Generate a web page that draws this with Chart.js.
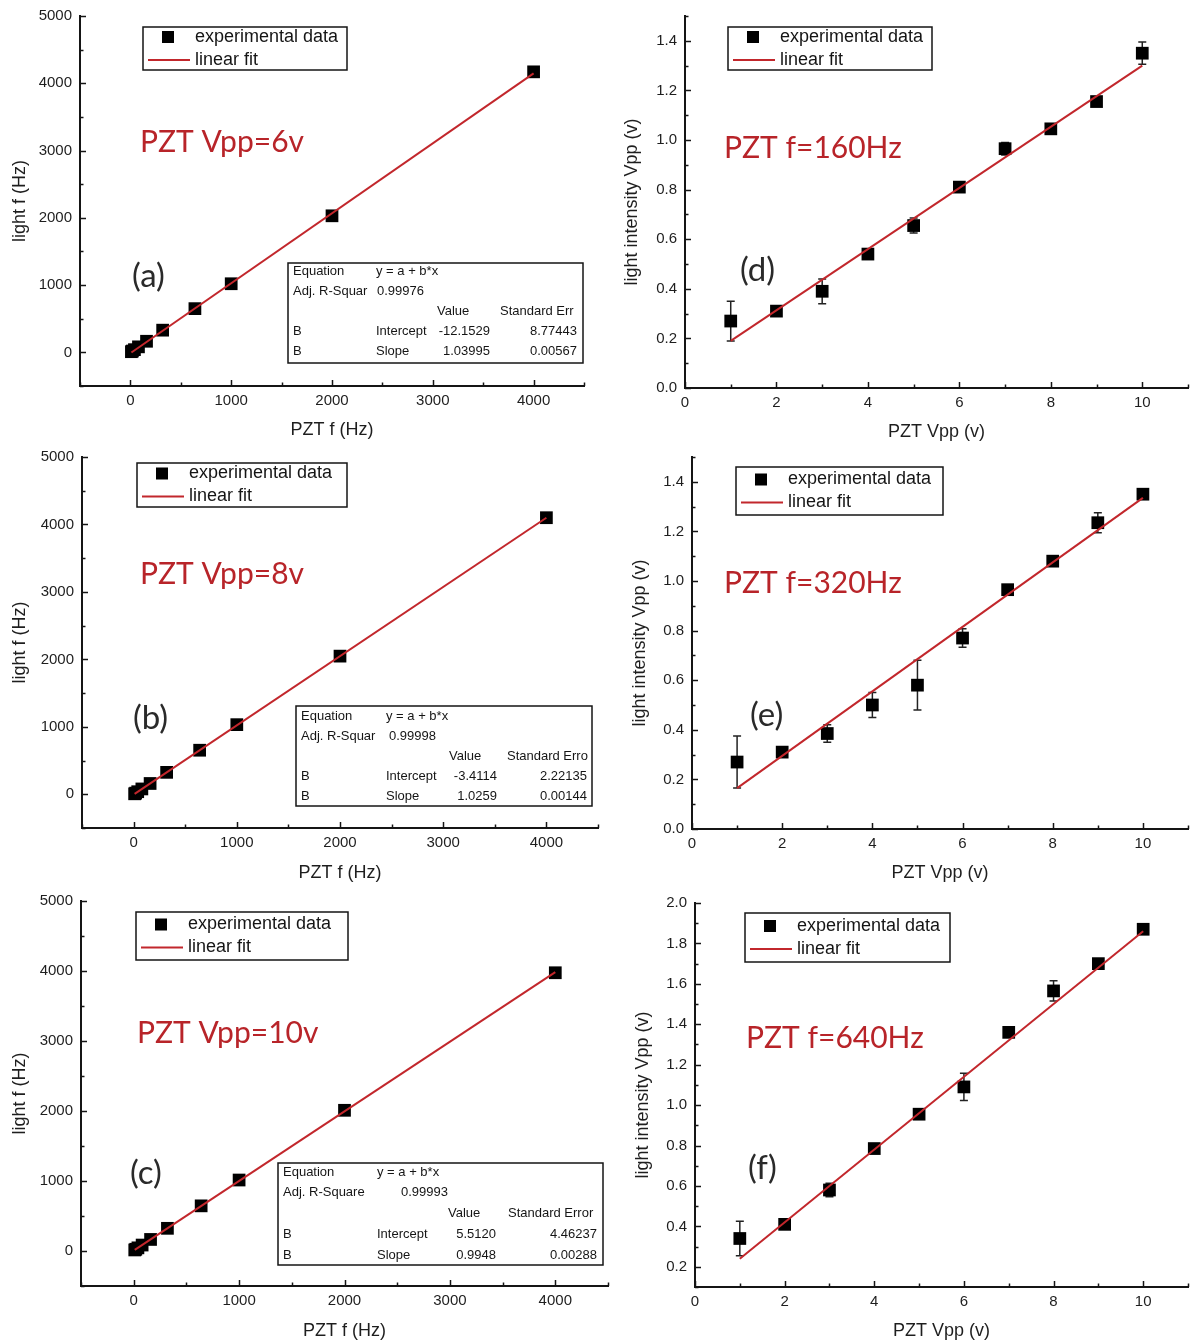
<!DOCTYPE html>
<html>
<head>
<meta charset="utf-8">
<script src="https://cdn.jsdelivr.net/npm/chart.js@4.4.1/dist/chart.umd.min.js"></script>
<style>
  body { margin: 0; background: #fff; }
  #page { position: relative; width: 1197px; height: 1342px; overflow: hidden; background: #fff; }
  #page canvas { position: absolute; }
</style>
</head>
<body>
<div id="page">
  <canvas id="chartA"></canvas>
  <canvas id="chartB"></canvas>
  <canvas id="chartC"></canvas>
  <canvas id="chartD"></canvas>
  <canvas id="chartE"></canvas>
  <canvas id="chartF"></canvas>
</div>
<script>
// --- data ---
const freqHz = [10, 20, 40, 80, 160, 320, 640, 1000, 2000, 4000];
const lightA = [10, 20, 40, 82, 165, 330, 650, 1020, 2030, 4170];
const lightB = [7, 17, 38, 79, 160, 325, 653, 1032, 2048, 4100];
const lightC = [15, 25, 45, 85, 165, 324, 645, 1014, 2010, 3975];
const fitFreqX = [10, 4000];
const fitA = [-2, 4148];
const fitB = [7, 4100];
const fitC = [15, 3985];

const vpp = [1, 2, 3, 4, 5, 6, 7, 8, 9, 10];
const intensD = [0.27, 0.31, 0.39, 0.54, 0.655, 0.81, 0.965, 1.045, 1.155, 1.35];
const errD = [0.08, 0.01, 0.05, 0.015, 0.03, 0.01, 0.025, 0.01, 0.015, 0.045];
const intensE = [0.27, 0.31, 0.385, 0.50, 0.58, 0.77, 0.965, 1.08, 1.235, 1.35];
const errE = [0.105, 0.01, 0.035, 0.05, 0.1, 0.037, 0.02, 0.01, 0.04, 0.02];
const intensF = [0.34, 0.41, 0.58, 0.785, 0.955, 1.09, 1.36, 1.565, 1.70, 1.87];
const errF = [0.085, 0.015, 0.033, 0.01, 0.015, 0.067, 0.015, 0.05, 0.01, 0.01];
const fitVppX = [1, 10];
const fitD = [0.19, 1.30];
const fitE = [0.165, 1.335];
const fitF = [0.24, 1.86];

const freqTicksX = [0, 1000, 2000, 3000, 4000];
const freqTicksY = [0, 1000, 2000, 3000, 4000, 5000];
const vppTicksX = [0, 2, 4, 6, 8, 10];
const intensTicksDE = [0, 0.2, 0.4, 0.6, 0.8, 1.0, 1.2, 1.4];
const intensTicksF = [0.2, 0.4, 0.6, 0.8, 1.0, 1.2, 1.4, 1.6, 1.8, 2.0];

const statsA = ['Adj. R-Squar', '0.99976', 'Standard Err', '-12.1529', '8.77443', '1.03995', '0.00567'];
const statsB = ['Adj. R-Squar', '0.99998', 'Standard Erro', '-3.4114', '2.22135', '1.0259', '0.00144'];
const statsC = ['Adj. R-Square', '0.99993', 'Standard Error', '5.5120', '4.46237', '0.9948', '0.00288'];

const FONT = "'Liberation Sans', Arial, sans-serif";
const NOTE_FONT = "Lato, 'Open Sans', sans-serif";
const RED = '#c2272c';
const NOTE_RED = '#b82429';
const INK = '#151515';

const intFmt = v => String(v);
const oneDec = v => v.toFixed(1);

function axisOpts(min, max, ticks, fmt, title, size, titlePad, isX) {
    return {
        type: 'linear',
        min: min,
        max: max,
        afterBuildTicks: s => { s.ticks = ticks.map(v => ({ value: v })); },
        afterFit: s => {
            if (isX) { s.height = size; s.paddingLeft = 0; s.paddingRight = 0; }
            else { s.width = size; s.paddingTop = 0; s.paddingBottom = 0; }
        },
        grid: { display: false, drawTicks: false },
        border: { display: true, color: INK, width: 2 },
        ticks: {
            autoSkip: false, maxRotation: 0, padding: isX ? 6 : 8,
            color: '#1e1e1e', font: { family: FONT, size: 15 }, callback: fmt
        },
        title: {
            display: true, text: title, color: '#1e1e1e',
            font: { family: FONT, size: 18 },
            padding: isX ? { top: 0, bottom: titlePad } : { top: titlePad, bottom: 0 }
        }
    };
}

// inward major + minor ticks, Origin style
function drawInwardTicks(chart) {
    const ctx = chart.ctx;
    ctx.save();
    ctx.strokeStyle = INK;
    ctx.lineWidth = 1.5;
    ['x', 'y'].forEach(id => {
        const s = chart.scales[id];
        const major = s.ticks.map(t => t.value);
        const step = major[1] - major[0];
        const marks = major.map(v => [v, 6]);
        for (let i = -1; i < major.length; i++) {
            const v = major[0] + step * (i + 0.5);
            if (v >= s.min - 1e-9 && v <= s.max + 1e-9) marks.push([v, 3.5]);
        }
        marks.forEach(([v, len]) => {
            const p = Math.round(s.getPixelForValue(v)) + 0.5;
            ctx.beginPath();
            if (id === 'x') { ctx.moveTo(p, s.top); ctx.lineTo(p, s.top - len); }
            else { ctx.moveTo(s.right, p); ctx.lineTo(s.right + len, p); }
            ctx.stroke();
        });
    });
    ctx.restore();
}

function drawErrors(chart, xs, ys, errs) {
    if (!errs) return;
    const ctx = chart.ctx, sx = chart.scales.x, sy = chart.scales.y;
    ctx.save();
    ctx.strokeStyle = '#222';
    ctx.lineWidth = 1.5;
    xs.forEach((x, i) => {
        const px = sx.getPixelForValue(x);
        const top = sy.getPixelForValue(ys[i] + errs[i]);
        const bot = sy.getPixelForValue(ys[i] - errs[i]);
        ctx.beginPath();
        ctx.moveTo(px, top); ctx.lineTo(px, bot);
        ctx.moveTo(px - 4, top); ctx.lineTo(px + 4, top);
        ctx.moveTo(px - 4, bot); ctx.lineTo(px + 4, bot);
        ctx.stroke();
    });
    ctx.restore();
}

function drawLegend(chart, box) {
    const ctx = chart.ctx;
    const [l, t, w, h] = box;
    const r1 = t + h / 2 - 11.5, r2 = t + h / 2 + 11.5;
    const sets = chart.data.datasets;
    ctx.save();
    ctx.fillStyle = '#fff';
    ctx.fillRect(l, t, w, h);
    ctx.strokeStyle = INK;
    ctx.lineWidth = 1.5;
    ctx.strokeRect(l, t, w, h);
    ctx.fillStyle = '#000';
    ctx.fillRect(l + 19, r1 - 6, 12, 12);
    ctx.strokeStyle = RED;
    ctx.lineWidth = 2;
    ctx.beginPath(); ctx.moveTo(l + 5, r2); ctx.lineTo(l + 47, r2); ctx.stroke();
    ctx.fillStyle = INK;
    ctx.font = '18px ' + FONT;
    ctx.textBaseline = 'middle';
    ctx.fillText(sets[1].label, l + 52, r1);
    ctx.fillText(sets[0].label, l + 52, r2);
    ctx.restore();
}

function drawStats(chart, st) {
    if (!st) return;
    const ctx = chart.ctx;
    const [l, t, w, h] = st.box;
    const c = st.cols, r = st.rows.map(v => t + v), txt = st.text;
    ctx.save();
    ctx.fillStyle = '#fff';
    ctx.fillRect(l, t, w, h);
    ctx.strokeStyle = INK;
    ctx.lineWidth = 1.5;
    ctx.strokeRect(l, t, w, h);
    ctx.fillStyle = INK;
    ctx.font = '13px ' + FONT;
    ctx.textBaseline = 'middle';
    const put = (s, x, y, align) => { ctx.textAlign = align || 'left'; ctx.fillText(s, l + x, y); };
    put('Equation', c[0], r[0]);
    put('y = a + b*x', c[1], r[0]);
    put(txt[0], c[0], r[1]);
    put(txt[1], c[2], r[1]);
    put('Value', c[3], r[2]);
    put(txt[2], c[4], r[2]);
    put('B', c[0], r[3]);
    put('Intercept', c[1], r[3]);
    put(txt[3], c[5], r[3], 'right');
    put(txt[4], c[6], r[3], 'right');
    put('B', c[0], r[4]);
    put('Slope', c[1], r[4]);
    put(txt[5], c[5], r[4], 'right');
    put(txt[6], c[6], r[4], 'right');
    ctx.restore();
}

function buildPanel(p) {
    const canvas = document.getElementById(p.id);
    const [gl, gt, gw, gh] = p.canvas;
    const [al, at, ar, ab] = p.area;
    canvas.width = gw;
    canvas.height = gh;
    canvas.style.left = gl + 'px';
    canvas.style.top = gt + 'px';
    const loc = (x, y) => [x - gl, y - gt];

    const legendBox = [p.legend[0] - gl, p.legend[1] - gt, p.legend[2], p.legend[3]];
    const stats = p.stats ? {
        box: [p.stats.box[0] - gl, p.stats.box[1] - gt, p.stats.box[2], p.stats.box[3]],
        cols: p.stats.cols, rows: p.stats.rows, text: p.stats.text
    } : null;

    const panelPlugin = {
        id: 'panelDecor',
        beforeDatasetsDraw(chart) { drawErrors(chart, p.xs, p.ys, p.errs); },
        afterDraw(chart) {
            drawInwardTicks(chart);
            const ctx = chart.ctx;
            ctx.save();
            ctx.textBaseline = 'middle';
            ctx.textAlign = 'left';
            ctx.fillStyle = NOTE_RED;
            ctx.font = '30px ' + NOTE_FONT;
            const n = loc(p.note[1], p.note[2]);
            ctx.fillText(p.note[0], n[0], n[1]);
            ctx.fillStyle = '#2a2a2a';
            ctx.font = '33px ' + NOTE_FONT;
            const k = loc(p.tag[1], p.tag[2]);
            ctx.fillText(p.tag[0], k[0], k[1]);
            ctx.restore();
            drawStats(chart, stats);
            drawLegend(chart, legendBox);
        }
    };

    new Chart(canvas, {
        type: 'scatter',
        data: {
            datasets: [
                {
                    label: 'linear fit',
                    data: p.fitX.map((x, i) => ({ x: x, y: p.fitY[i] })),
                    showLine: true,
                    borderColor: RED,
                    borderWidth: 2,
                    pointRadius: 0,
                    order: 0
                },
                {
                    label: 'experimental data',
                    data: p.xs.map((x, i) => ({ x: x, y: p.ys[i] })),
                    pointStyle: 'rect',
                    pointRadius: 9,
                    pointBorderWidth: 0,
                    backgroundColor: '#000',
                    borderColor: '#000',
                    order: 1
                }
            ]
        },
        options: {
            responsive: false,
            animation: false,
            devicePixelRatio: 1,
            layout: { padding: { left: 0, top: at - gt, right: gl + gw - ar, bottom: 0 } },
            plugins: { legend: { display: false }, tooltip: { enabled: false } },
            scales: {
                x: axisOpts(p.xr[0], p.xr[1], p.xt, intFmt, p.xTitle, gt + gh - ab, p.xTitlePad, true),
                y: axisOpts(p.yr[0], p.yr[1], p.yt, p.yFmt, p.yTitle, al - gl, p.yTitlePad, false)
            }
        },
        plugins: [panelPlugin]
    });
}

const freqStatsCols = {
    a: [5, 88, 89, 149, 212, 202, 289],
    b: [5, 90, 93, 153, 211, 201, 291],
    c: [5, 99, 123, 170, 230, 218, 319]
};

buildPanel({
    id: 'chartA', canvas: [0, 0, 600, 448], area: [80, 16, 584, 386],
    xs: freqHz, ys: lightA, fitX: fitFreqX, fitY: fitA,
    xr: [-500, 4500], xt: freqTicksX, yr: [-500, 5000], yt: freqTicksY, yFmt: intFmt,
    xTitle: 'PZT f (Hz)', yTitle: 'light f (Hz)', xTitlePad: 7, yTitlePad: 9,
    legend: [143, 27, 204, 43],
    note: ['PZT Vpp=6v', 140, 142], tag: ['(a)', 132, 276],
    stats: { box: [288, 263, 295, 100], cols: freqStatsCols.a, rows: [8, 28, 48, 68, 88], text: statsA }
});
buildPanel({
    id: 'chartB', canvas: [0, 448, 610, 442], area: [82, 450, 598, 828],
    xs: freqHz, ys: lightB, fitX: fitFreqX, fitY: fitB,
    xr: [-500, 4500], xt: freqTicksX, yr: [-500, 5000], yt: freqTicksY, yFmt: intFmt,
    xTitle: 'PZT f (Hz)', yTitle: 'light f (Hz)', xTitlePad: 6, yTitlePad: 9,
    legend: [137, 463, 210, 44],
    note: ['PZT Vpp=8v', 140, 574], tag: ['(b)', 133, 718],
    stats: { box: [296, 706, 296, 100], cols: freqStatsCols.b, rows: [10, 30, 50, 70, 90], text: statsB }
});
buildPanel({
    id: 'chartC', canvas: [0, 890, 620, 452], area: [81, 901, 608, 1286],
    xs: freqHz, ys: lightC, fitX: fitFreqX, fitY: fitC,
    xr: [-500, 4500], xt: freqTicksX, yr: [-500, 5000], yt: freqTicksY, yFmt: intFmt,
    xTitle: 'PZT f (Hz)', yTitle: 'light f (Hz)', xTitlePad: 0, yTitlePad: 9,
    legend: [136, 912, 212, 48],
    note: ['PZT Vpp=10v', 137, 1033], tag: ['(c)', 130, 1173],
    stats: { box: [278, 1163, 325, 102], cols: freqStatsCols.c, rows: [9, 29, 50, 71, 92], text: statsC }
});
buildPanel({
    id: 'chartD', canvas: [600, 0, 597, 448], area: [685, 16, 1191, 388],
    xs: vpp, ys: intensD, errs: errD, fitX: fitVppX, fitY: fitD,
    xr: [0, 11], xt: vppTicksX, yr: [0, 1.5], yt: intensTicksDE, yFmt: oneDec,
    xTitle: 'PZT Vpp (v)', yTitle: 'light intensity Vpp (v)', xTitlePad: 5, yTitlePad: 21,
    legend: [728, 27, 204, 43],
    note: ['PZT f=160Hz', 724, 148], tag: ['(d)', 740, 270]
});
buildPanel({
    id: 'chartE', canvas: [610, 448, 587, 442], area: [692, 457, 1197, 829],
    xs: vpp, ys: intensE, errs: errE, fitX: fitVppX, fitY: fitE,
    xr: [0, 11], xt: vppTicksX, yr: [0, 1.5], yt: intensTicksDE, yFmt: oneDec,
    xTitle: 'PZT Vpp (v)', yTitle: 'light intensity Vpp (v)', xTitlePad: 6, yTitlePad: 19,
    legend: [736, 467, 207, 48],
    note: ['PZT f=320Hz', 724, 583], tag: ['(e)', 750, 715]
});
buildPanel({
    id: 'chartF', canvas: [620, 890, 577, 452], area: [695, 903, 1195, 1287],
    xs: vpp, ys: intensF, errs: errF, fitX: fitVppX, fitY: fitF,
    xr: [0, 11], xt: vppTicksX, yr: [0.1, 2.0], yt: intensTicksF, yFmt: oneDec,
    xTitle: 'PZT Vpp (v)', yTitle: 'light intensity Vpp (v)', xTitlePad: 0, yTitlePad: 12,
    legend: [745, 913, 205, 49],
    note: ['PZT f=640Hz', 746, 1038], tag: ['(f)', 748, 1168]
});
</script>
</body>
</html>
